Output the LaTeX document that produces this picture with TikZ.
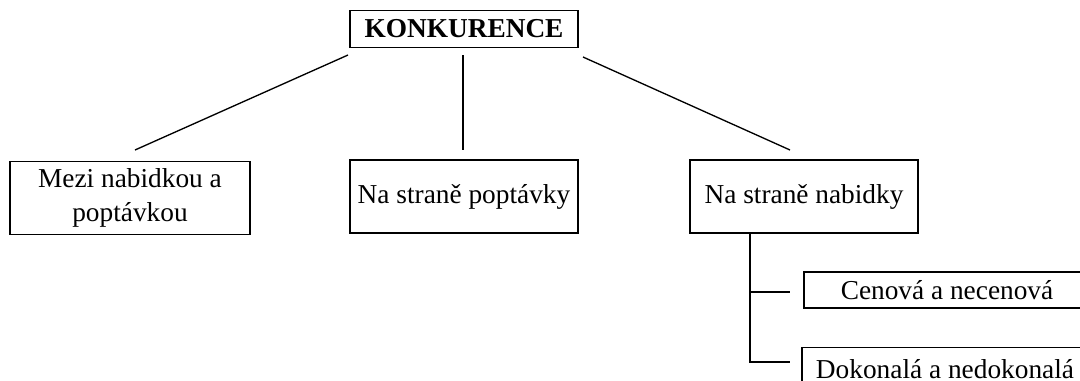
\documentclass[tikz,border=0pt]{standalone}
\usepackage{fontspec}
\setmainfont{Liberation Serif}
\begin{document}
\begin{tikzpicture}[x=0.75pt,y=-0.75pt,
  box/.style={draw, line width=1pt, inner sep=0pt, align=center,
    font=\fontsize{20.5}{21}\selectfont},
  conn/.style={line width=1pt}]
\useasboundingbox (0,0) rectangle (1080,380);
\clip (0,0) rectangle (1080,380);
% nodes
\node[box, minimum width=171pt, minimum height=27.75pt, font=\fontsize{20.5}{21}\selectfont\bfseries] (top) at (464,29) {KONKURENCE};
\node[box, minimum width=180pt, minimum height=54.75pt] (left) at (130,198) {Mezi nabidkou a\\[4pt]poptávkou};
\node[box, minimum width=171pt, minimum height=54.75pt] (mid) at (464,196.5) {Na straně poptávky};
\node[box, minimum width=171pt, minimum height=54.75pt] (right) at (804,196.5) {Na straně nabidky};
\node[box, minimum width=214.5pt, minimum height=27pt] (cen) at (947,290) {Cenová a necenová};
\node[box, anchor=north, minimum width=214.5pt, inner ysep=9pt, text height=14pt, text depth=4pt] (dok) at (945,347) {Dokonalá a nedokonalá};
% free ends of connectors
\coordinate (l1) at (348,55);  \coordinate (l2) at (135,150);
\coordinate (m1) at (463,55);  \coordinate (m2) at (463,150);
\coordinate (r1) at (583,57);  \coordinate (r2) at (790,150);
\coordinate (t0) at (750,233); \coordinate (t1) at (750,292); \coordinate (t2) at (750,362);
\coordinate (c1) at (790,292); \coordinate (d1) at (790,362);
\draw[conn] (l1) -- (l2);
\draw[conn] (m1) -- (m2);
\draw[conn] (r1) -- (r2);
\draw[conn] (t0) -- (t2) -- (d1);
\draw[conn] (t1) -- (c1);
\end{tikzpicture}
\end{document}
